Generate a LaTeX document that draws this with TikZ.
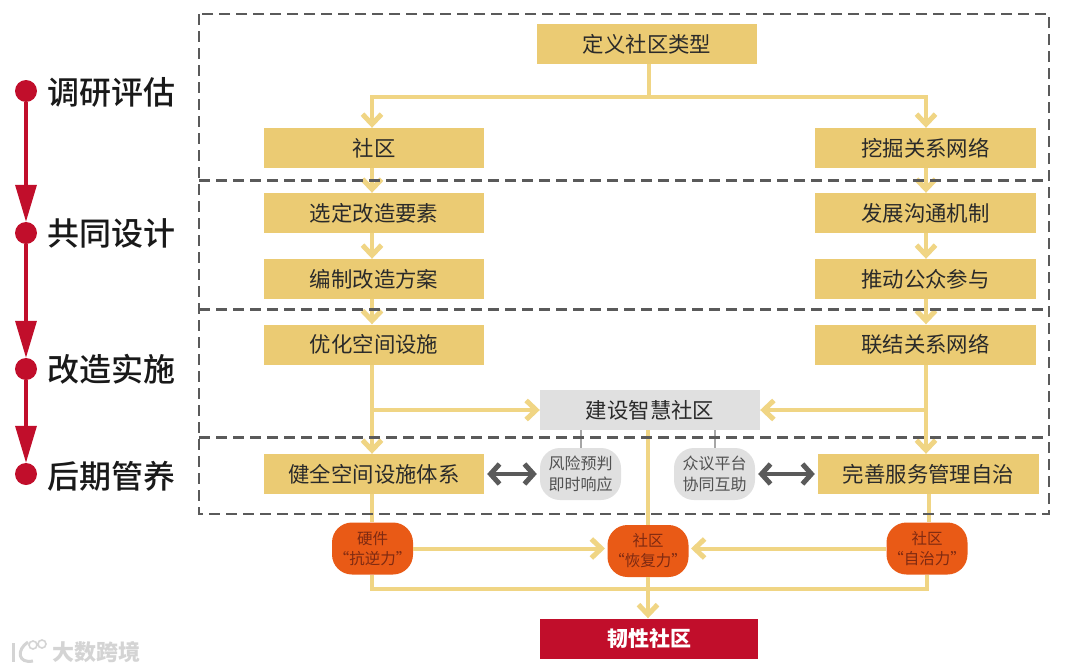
\documentclass[tikz,border=0pt]{standalone}
\usepackage{fontspec}
\setmainfont{Noto Sans CJK SC}
\newfontfamily\cjkmed{Noto Sans CJK SC Medium}
\usetikzlibrary{arrows.meta,calc}
\definecolor{boxy}{HTML}{EBCB73}
\definecolor{liney}{HTML}{F0D584}
\definecolor{redc}{HTML}{C10E2B}
\definecolor{orc}{HTML}{E95A16}
\definecolor{greyb}{HTML}{E0E0E0}
\definecolor{greyd}{HTML}{5A5A5A}
\definecolor{txt}{HTML}{2A2A2A}
\definecolor{ort}{HTML}{7E2A12}
\definecolor{wm}{HTML}{D4D4D4}
\tikzset{
  x=1pt,y=-1pt,
  ybox/.style={draw=none,fill=boxy,minimum width=220pt,minimum height=40pt,inner sep=0pt,font=\fontsize{21.4}{24}\selectfont,text=txt},
  gbox/.style={ybox,fill=greyb},
  rbox/.style={ybox,fill=redc,text=white,minimum width=218pt,font=\bfseries\fontsize{21}{24}\selectfont},
  pill/.style={draw=none,fill=greyb,rounded corners=20pt,minimum width=81pt,minimum height=52pt,inner sep=0pt,align=center,font=\fontsize{16}{21}\selectfont,text=greyd!90!black},
  opill/.style={draw=none,fill=orc,rounded corners=20pt,minimum width=81pt,minimum height=52pt,inner sep=0pt,align=center,font=\fontsize{15.5}{20}\selectfont,text=ort},
  stage/.style={inner sep=0pt,anchor=west,font=\cjkmed\fontsize{32}{36}\selectfont,text=black!90},
  dotr/.style={circle,fill=redc,draw=none,minimum size=22pt,inner sep=0pt},
  yl/.style={draw=liney,line width=4pt},
  ya/.style={yl,-{Straight Barb[length=10pt,width=19pt,line width=5pt]}},
  da/.style={draw=greyd,line width=4pt,{Straight Barb[length=9pt,width=20pt,line width=5pt]}-{Straight Barb[length=9pt,width=20pt,line width=5pt]}},
  gl/.style={draw=black!35,line width=2pt},
  ra/.style={draw=redc,line width=3.4pt,-{Triangle[length=37pt,width=21pt]}},
  frame/.style={draw=greyd,line width=2.8pt,dash pattern=on 11pt off 6pt},
}
\begin{document}
\begin{tikzpicture}
\useasboundingbox[fill=white] (0,0) rectangle (1080,672);
% timeline
\node[dotr] (d1) at (26,91) {};
\node[dotr] (d2) at (26,233) {};
\node[dotr] (d3) at (26,369) {};
\node[dotr] (d4) at (26,474) {};
\draw[ra] (d1) -- (d2.north);
\draw[ra] (d2) -- (d3.north);
\draw[ra] (d3) -- (d4.north);
\node[stage] (s1) at (47,92) {调研评估};
\node[stage] (s2) at (47,233) {共同设计};
\node[stage] (s3) at (47,369) {改造实施};
\node[stage] (s4) at (47,476) {后期管养};
% boxes
\node[ybox] (def) at (647,44) {定义社区类型};
\node[ybox] (a1) at (374,148) {社区};
\node[ybox,minimum width=221pt] (b1) at (925.5,148) {挖掘关系网络};
\node[ybox] (a2) at (374,213) {选定改造要素};
\node[ybox,minimum width=221pt] (b2) at (925.5,213) {发展沟通机制};
\node[ybox] (a3) at (374,279) {编制改造方案};
\node[ybox,minimum width=221pt] (b3) at (925.5,279) {推动公众参与};
\node[ybox] (a4) at (374,344.5) {优化空间设施};
\node[ybox,minimum width=221pt] (b4) at (925.5,344.5) {联结关系网络};
\node[gbox] (smart) at (650,410) {建设智慧社区};
\node[ybox] (a5) at (374,474) {健全空间设施体系};
\node[ybox,minimum width=221pt] (b5) at (928.5,474) {完善服务管理自治};
\node[pill] (p1) at (580.5,474) {风险预判\\即时响应};
\node[pill] (p2) at (714.5,474) {众议平台\\协同互助};
\node[opill] (o1) at (372.5,548.5) {硬件\\“抗逆力”};
\node[opill] (o2) at (648,551) {社区\\“恢复力”};
\node[opill] (o3) at (927,548.5) {社区\\“自治力”};
\node[rbox] (res) at (649,638.5) {韧性社区};
% helper coordinates
\coordinate (L) at (372,0);
\coordinate (R) at (926,0);
\coordinate (split) at (649,97);
\coordinate (ml) at (372,410);
\coordinate (mr) at (926,410);
\coordinate (bot) at (648,589);
\coordinate (ina) at (605,548.5);
\coordinate (inb) at (691,548.5);
% connectors
\draw[yl] (def.south -| split) -- (split);
\draw[ya] (split) -| (a1.north -| L);
\draw[ya] (split) -| (b1.north -| R);
\draw[ya] (a1.south -| L) -- (a2.north -| L);
\draw[ya] (a2.south -| L) -- (a3.north -| L);
\draw[ya] (a3.south -| L) -- (a4.north -| L);
\draw[ya] (a4.south -| L) -- (a5.north -| L);
\draw[ya] (b1.south -| R) -- (b2.north -| R);
\draw[ya] (b2.south -| R) -- (b3.north -| R);
\draw[ya] (b3.south -| R) -- (b4.north -| R);
\draw[ya] (b4.south -| R) -- (b5.north -| R);
\draw[ya] (ml) -- (smart.west);
\draw[ya] (mr) -- (smart.east);
\draw[yl] (smart.south -| o2) -- (o2.north);
\draw[yl] (a5.south -| L) -- (o1.north -| L);
\draw[yl] (b5.south) -- (o3.north -| b5);
\draw[ya] (o1.east) -- (ina);
\draw[ya] (o3.west) -- (inb);
\draw[yl] (o1.south -| L) -- (L |- bot) -- (bot -| o3) -- (o3.south);
\draw[ya] (o2.south) -- (res.north -| o2);
\draw[gl] (smart.south -| p1) -- (p1.north);
\draw[gl] (smart.south -| p2) -- (p2.north);
\draw[da] (a5.east) ++(3,0) -- ($(p1.west)+(-3,0)$);
\draw[da] ($(p2.east)+(3,0)$) -- ($(b5.west)+(-3,0)$);
% frame
\coordinate (f1) at (199,14);
\coordinate (f2) at (1049,514);
\draw[frame] (f1) rectangle (f2);
\draw[frame] (199,180.5) -- (1049,180.5);
\draw[frame] (199,309.5) -- (1049,309.5);
\draw[frame] (199,437.5) -- (1049,437.5);
% watermark
\node[inner sep=0pt,anchor=west,text=wm,font=\bfseries\fontsize{22}{24}\selectfont] (wmt) at (52,652) {大数跨境};
\draw[wm,line width=3pt] (13,643) -- (13,662);
\draw[wm,line width=3pt] (28,642) .. controls (16,650) and (18,664) .. (33,661);
\draw[wm,line width=1.6pt] (33,645) circle (4pt) (42,644) circle (4pt);
\end{tikzpicture}
\end{document}
